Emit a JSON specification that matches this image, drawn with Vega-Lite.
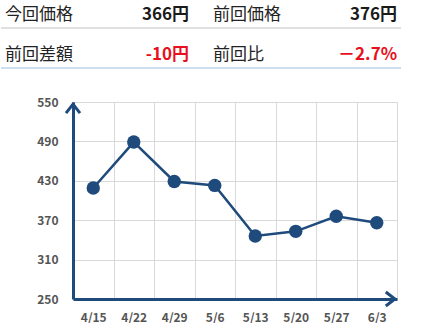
{
  "$schema": "https://vega.github.io/schema/vega-lite/v6.json",
  "padding": {"left": 0, "top": 0, "right": 0, "bottom": 0},
  "background": "white",
  "spacing": 16,
  "config": {"view": {"stroke": null}, "font": "Noto Sans CJK JP"},
  "datasets": {
    "header": [
      {"col": "A", "row": "1", "label": "今回価格", "value": "366円", "kind": "normal"},
      {"col": "B", "row": "1", "label": "前回価格", "value": "376円", "kind": "normal"},
      {"col": "A", "row": "2", "label": "前回差額", "value": "-10円", "kind": "red"},
      {"col": "B", "row": "2", "label": "前回比", "value": "－2.7%", "kind": "red"}
    ],
    "prices": [
      {"date": "4/15", "price": 419},
      {"date": "4/22", "price": 489},
      {"date": "4/29", "price": 429},
      {"date": "5/6", "price": 423},
      {"date": "5/13", "price": 346},
      {"date": "5/20", "price": 353},
      {"date": "5/27", "price": 376},
      {"date": "6/3", "price": 366}
    ]
  },
  "vconcat": [
    {
      "width": 324,
      "height": 80,
      "data": {"name": "header"},
      "resolve": {"scale": {"x": "independent"}},
      "encoding": {
        "y": {"field": "row", "type": "nominal", "scale": {"type": "band", "paddingInner": 0, "paddingOuter": 0}, "axis": null}
      },
      "layer": [
        {
          "transform": [{"filter": "datum.col === 'A' && datum.row === '1'"}],
          "mark": {"type": "rule", "strokeWidth": 1.5, "color": "#d6d6d6"},
          "encoding": {
            "y": {"field": "row", "type": "nominal", "bandPosition": 0.7},
            "x": {"datum": 0, "type": "quantitative", "scale": {"domain": [0, 1], "range": [-72, 328]}, "axis": null},
            "x2": {"datum": 1}
          }
        },
        {
          "transform": [{"filter": "datum.col === 'A' && datum.row === '2'"}],
          "mark": {"type": "rule", "strokeWidth": 1.5, "color": "#bcd3ec"},
          "encoding": {
            "y": {"field": "row", "type": "nominal", "bandPosition": 0.7},
            "x": {"datum": 0, "type": "quantitative", "scale": {"domain": [0, 1], "range": [-72, 328]}, "axis": null},
            "x2": {"datum": 1}
          }
        },
        {
          "mark": {"type": "text", "align": "left", "baseline": "middle", "fontSize": 17, "color": "#222222"},
          "encoding": {
            "x": {"field": "col", "type": "nominal", "bandPosition": 0, "scale": {"type": "band", "range": [-72, 328], "paddingInner": 0.115, "paddingOuter": 0.019}, "axis": null},
            "y": {"field": "row", "type": "nominal", "bandPosition": 0.375},
            "text": {"field": "label"}
          }
        },
        {
          "mark": {"type": "text", "align": "right", "baseline": "middle", "fontSize": 17, "fontWeight": "bold"},
          "encoding": {
            "x": {"field": "col", "type": "nominal", "bandPosition": 1, "scale": {"type": "band", "range": [-72, 328], "paddingInner": 0.115, "paddingOuter": 0.019}, "axis": null},
            "y": {"field": "row", "type": "nominal", "bandPosition": 0.375},
            "text": {"field": "value"},
            "color": {"field": "kind", "type": "nominal", "scale": {"domain": ["normal", "red"], "range": ["#1a1a1a", "#e8101c"]}, "legend": null}
          }
        }
      ]
    },
    {
      "width": 324,
      "height": 197,
      "data": {"name": "prices"},
      "encoding": {
        "x": {
          "field": "date", "type": "ordinal", "sort": null,
          "scale": {"type": "band", "paddingInner": 0, "paddingOuter": 0},
          "axis": {"title": null, "tickBand": "extent", "ticks": false, "grid": true, "gridColor": "#d9d9d9", "gridWidth": 1,
                   "domainColor": "#1f4a7c", "domainWidth": 3, "labelAngle": 0, "labelPadding": 13,
                   "labelFontSize": 12, "labelFontWeight": "bold", "labelColor": "#555555"}
        },
        "y": {
          "field": "price", "type": "quantitative",
          "scale": {"domain": [250, 550], "nice": false, "zero": false},
          "axis": {"title": null, "values": [250, 310, 370, 430, 490, 550], "ticks": false, "grid": true, "gridColor": "#d9d9d9",
                   "domainColor": "#1f4a7c", "domainWidth": 3, "labelPadding": 15, "minExtent": 72,
                   "labelFontSize": 12, "labelFontWeight": "bold", "labelColor": "#555555"}
        }
      },
      "layer": [
        {"mark": {"type": "line", "color": "#1f4a7c", "strokeWidth": 2.5}},
        {"mark": {"type": "point", "filled": true, "size": 180, "opacity": 1, "color": "#1f4a7c"}},
        {
          "transform": [{"filter": "datum.date === '6/3'"}],
          "mark": {"type": "point", "shape": "M-1.6,-1L-0.3,0L-1.6,1", "filled": false, "size": 196, "strokeWidth": 3, "color": "#1f4a7c", "opacity": 1},
          "encoding": {
            "x": {"field": "date", "type": "ordinal", "sort": null, "bandPosition": 1},
            "y": {"datum": 250}
          }
        },
        {
          "transform": [{"filter": "datum.date === '4/15'"}],
          "mark": {"type": "point", "shape": "M-1,1.6L0,0.3L1,1.6", "filled": false, "size": 196, "strokeWidth": 3, "color": "#1f4a7c", "opacity": 1},
          "encoding": {
            "x": {"field": "date", "type": "ordinal", "sort": null, "bandPosition": 0},
            "y": {"datum": 550}
          }
        }
      ]
    }
  ]
}
